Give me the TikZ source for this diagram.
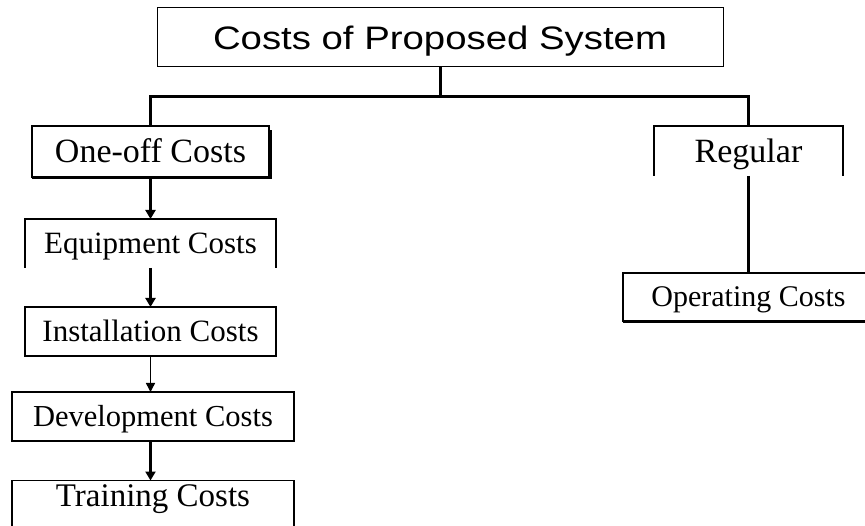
\documentclass[tikz,border=0pt]{standalone}
\usepackage{fontspec}
\usetikzlibrary{arrows.meta}
\newfontfamily\tfont{Liberation Serif}
\newfontfamily\sfont[FakeStretch=1.18]{Liberation Sans}
\tikzset{
  box/.style={inner sep=0pt, outer sep=0pt, text depth=0pt, align=center},
  edge/.style={line width=1.2pt, line join=miter},
  conn/.style={line width=3pt, line join=miter},
  arr/.style={line width=3pt, -{Triangle[length=9pt,width=10pt]}},
  thinarr/.style={line width=1.5pt, -{Triangle[length=9pt,width=9pt]}},
  midarr/.style={line width=2.2pt, -{Triangle[length=9pt,width=10pt]}},
  shadow/.style={line width=3pt}
}
\begin{document}
\begin{tikzpicture}[x=1pt,y=-1pt]
\useasboundingbox (0,0) rectangle (865,526);
% nodes
\node[box, draw, line width=1pt, minimum width=566pt, minimum height=59pt, text height=23.5pt,
  font=\sfont\fontsize{32.5}{32.5}\selectfont] (title) at (440,37.5) {Costs of Proposed System};
\node[box, draw, line width=1.2pt, minimum width=237pt, minimum height=51pt, text height=22.5pt,
  font=\tfont\fontsize{34}{34}\selectfont] (one) at (150.5,151.5) {One-off Costs};
\node[box, minimum width=251pt, minimum height=49pt, text height=20.5pt,
  font=\tfont\fontsize{31}{31}\selectfont] (eq) at (150.5,243.5) {Equipment Costs};
\node[box, draw, line width=1.2pt, minimum width=251pt, minimum height=49pt, text height=20.5pt,
  font=\tfont\fontsize{31}{31}\selectfont] (inst) at (150.5,331.5) {Installation Costs};
\node[box, draw, line width=1.2pt, minimum width=282pt, minimum height=49pt, text height=20.2pt,
  font=\tfont\fontsize{30.5}{30.5}\selectfont] (dev) at (153,416.5) {Development Costs};
\node[box, minimum width=282pt, minimum height=30pt, text height=21.5pt,
  font=\tfont\fontsize{33}{33}\selectfont] (tr) at (153,495.5) {Training Costs};
\node[box, minimum width=189pt, minimum height=50pt, text height=22.5pt,
  font=\tfont\fontsize{34}{34}\selectfont] (reg) at (748.5,151) {Regular};
\node[box, draw, line width=1.2pt, minimum width=251pt, minimum height=48pt, text height=19.9pt,
  font=\tfont\fontsize{30}{30}\selectfont] (op) at (748.5,297) {Operating Costs};
\coordinate (bus) at (440,97);
\coordinate (bottom) at (0,530);
% open boxes
\draw[edge] (eq.south west) -- (eq.north west) -- (eq.north east) -- (eq.south east);
\draw[edge] (tr.north west |- bottom) -- (tr.north west) -- (tr.north east) -- (tr.north east |- bottom);
\draw[edge] (reg.south west) -- (reg.north west) -- (reg.north east) -- (reg.south east);
% shadows
\draw[shadow] ([yshift=-1pt]one.south west) -- ([xshift=1pt,yshift=-1pt]one.south east) -- ([xshift=1pt,yshift=-4pt]one.north east);
\draw[shadow] ([yshift=-1pt]op.south west) -- ([xshift=1pt,yshift=-1pt]op.south east);
% connectors
\draw[conn] (title.south) -- (bus);
\draw[conn] (one.north) |- (bus) -| (reg.north);
\draw[conn] (reg.south) -- (op.north);
\draw[arr] ([yshift=-1.5pt]one.south) -- (eq.north);
\draw[arr] (eq.south) -- (inst.north);
\draw[thinarr] (inst.south) -- (inst.south |- dev.north);
\draw[midarr] (inst.south |- dev.south) -- (inst.south |- tr.north);
\end{tikzpicture}
\end{document}
